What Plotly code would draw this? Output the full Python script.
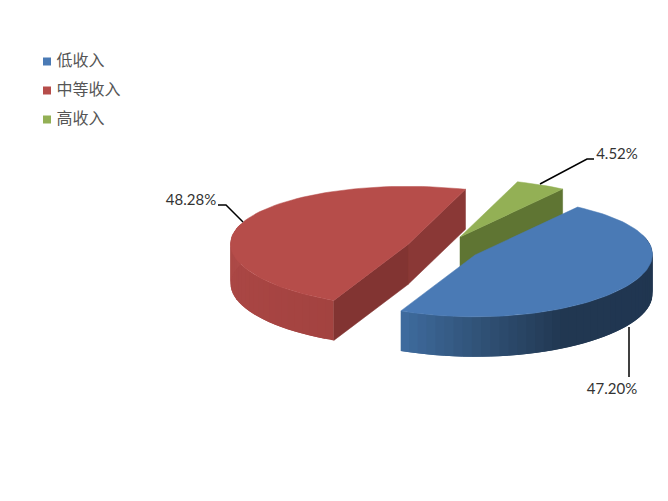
import math
import plotly.graph_objects as go

categories = ["低收入", "中等收入", "高收入"]
shares = [47.20, 48.28, 4.52]

START_DEG = -55.0
RX, RY, PERSP, DEPTH, SKEW = 177.5, 60.0, 0.03, 40.0, 3.5
APEX = [(475, 255), (408, 244.5), (460, 237)]
TOP = ["#4a7ab5", "#b64d4a", "#93b055"]
FACE_A = [None, "#823432", "#5f7533"]
FACE_B = [None, "#8a3836", None]
SIDE_STOPS = {
    0: [(-20, "#1f3550"), (60, "#213751"), (90, "#315379"), (115, "#3f6c9f")],
    1: [(115, "#a34340"), (150, "#a84543"), (200, "#ad4a47")],
}
LEGEND_X = 47
LEGEND_Y = [61.5, 90.5, 119.5]
LEADERS = [
    ([629, 629], [327, 377]),
    ([243, 226, 218], [222, 205, 205]),
    ([540, 587, 594], [184, 159, 159]),
]
LABEL_POS = [(612, 390), (191, 201), (617, 155.5)]


def hex_rgb(c):
    return tuple(int(c[i:i + 2], 16) for i in (1, 3, 5))


def mix(stops, t):
    for (t0, c0), (t1, c1) in zip(stops, stops[1:]):
        if t0 <= t <= t1:
            f = (t - t0) / (t1 - t0)
            a, b = hex_rgb(c0), hex_rgb(c1)
            return "rgb({},{},{})".format(*[round(p + (q - p) * f) for p, q in zip(a, b)])
    return stops[-1][1]


def proj(apex, deg):
    t = math.radians(deg)
    s = 1 + PERSP * math.sin(t)
    x = apex[0] + RX * math.cos(t) * s - SKEW * math.sin(2 * t)
    return x, apex[1] + RY * math.sin(t) * s


def poly(pts, color, width=0.5):
    xs = [p[0] for p in pts] + [pts[0][0]]
    ys = [p[1] for p in pts] + [pts[0][1]]
    return go.Scatter(x=xs, y=ys, mode="lines", fill="toself", fillcolor=color,
                      line=dict(color=color, width=width), hoverinfo="skip", showlegend=False)


def drop(p):
    return (p[0], p[1] + DEPTH)


angles = []
a = START_DEG
for v in shares:
    b = a + v / sum(shares) * 360
    angles.append((a, b))
    a = b


def slice_traces(i):
    out = []
    ap = APEX[i]
    a0, a1 = angles[i]
    pa, pb = proj(ap, a0), proj(ap, a1)
    if FACE_B[i]:
        out.append(poly([ap, pb, drop(pb), drop(ap)], FACE_B[i]))
    if i == 2:
        out.append(poly([ap, pb, drop(pb), drop(ap)], FACE_A[i]))
    if i in SIDE_STOPS:
        stops = SIDE_STOPS[i]
        t = stops[0][0]
        end = a1 if i == 0 else stops[-1][0]
        t = a0 if i == 1 else t
        step = 3.0
        while t < end:
            # each band runs on under the next one so that no seam shows
            t2 = min(t + 2 * step, end)
            pts_top = [proj(ap, t + (t2 - t) * k / 4) for k in range(5)]
            pts = pts_top + [drop(p) for p in reversed(pts_top)]
            out.append(poly(pts, mix(stops, min(t + step / 2, stops[-1][0])), width=0))
            t += step
    if i == 1:
        out.append(poly([ap, pa, drop(pa), drop(ap)], FACE_A[i]))
    n = max(4, int((a1 - a0) / 2))
    arc = [proj(ap, a0 + (a1 - a0) * k / n) for k in range(n + 1)]
    out.append(poly([ap] + arc, TOP[i]))
    return out


fig = go.Figure()
for i in (1, 2, 0):
    for tr in slice_traces(i):
        fig.add_trace(tr)

for i, (lx, ly) in enumerate(LEADERS):
    fig.add_trace(go.Scatter(x=lx, y=ly, mode="lines", line=dict(color="#000000", width=1.5),
                             hoverinfo="skip", showlegend=False))
    fig.add_trace(go.Scatter(x=[LABEL_POS[i][0]], y=[LABEL_POS[i][1]], mode="text",
                             text=[f"{shares[i]:.2f}%"], textposition="middle center",
                             textfont=dict(family="Lato", size=15, color="#333333"),
                             hoverinfo="skip", showlegend=False))

for i, name in enumerate(categories):
    fig.add_trace(go.Scatter(x=[LEGEND_X], y=[LEGEND_Y[i]], mode="markers+text", name=name,
                             marker=dict(symbol="square", size=8, color=TOP[i]),
                             text=[" " + name], textposition="middle right",
                             textfont=dict(family="Noto Sans CJK SC", size=16, color="#555555"),
                             hoverinfo="skip", showlegend=False))

fig.update_layout(
    width=668, height=501, margin=dict(l=0, r=0, t=0, b=0),
    paper_bgcolor="white", plot_bgcolor="white", showlegend=False,
    xaxis=dict(range=[0, 668], visible=False),
    yaxis=dict(range=[501, 0], visible=False),
)
fig.write_html("out.html", post_script="document.body.style.margin='0';",
               config={"displayModeBar": False})
